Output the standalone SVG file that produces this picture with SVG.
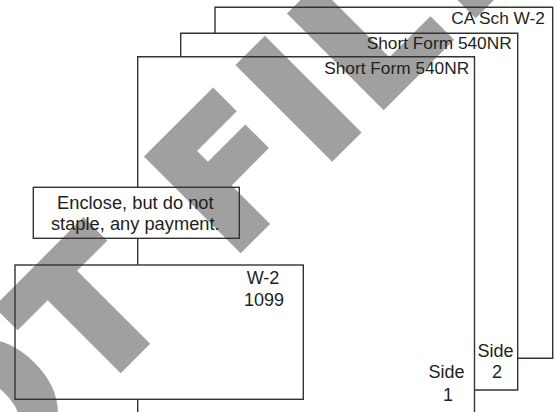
<svg xmlns="http://www.w3.org/2000/svg" width="556" height="412" viewBox="0 0 556 412">
<style>
.wm{font-family:"DejaVu Sans",sans-serif;font-weight:bold;font-size:176px;fill:#a0a0a0;stroke:#a0a0a0;stroke-width:8.5px;stroke-linejoin:miter}
.ln{fill:none;stroke:#333;stroke-width:1.4}
.t{font-family:"Liberation Sans",Arial,sans-serif;fill:#231f20}
.lab{font-size:17.3px;text-anchor:end}
.c{font-size:18px;text-anchor:middle}
</style>
<rect width="556" height="412" fill="#fff"/>
<g id="watermark">
<text class="wm" transform="rotate(-45)" y="345" x="-880 -722 -565 -525 -377.1 -217.8 -80 -20.9 108.5 181.3 311.4">DO NOT FILE</text>
</g>
<g id="connectors">
<line class="ln" x1="137.7" y1="238.3" x2="137.7" y2="265"/>
<line class="ln" x1="137.7" y1="399.3" x2="137.7" y2="413"/>
</g>
<g id="ca-sch-w2">
<polyline class="ln" points="215,33.3 215,7.3 552.7,7.3 552.7,358.3 517.7,358.3"/>
<text class="t lab" x="545" y="24">CA Sch W-2</text>
<text class="t c" x="495.5" y="356.7">Side</text>
<text class="t c" x="497" y="378.3">2</text>
</g>
<g id="short-form-back">
<polyline class="ln" points="180.7,56.7 180.7,33.3 517.7,33.3 517.7,390 474.5,390"/>
<text class="t lab" x="511.7" y="49.3">Short Form 540NR</text>
</g>
<g id="short-form-front">
<polyline class="ln" points="137.7,187.3 137.7,56.7 474.5,56.7 474.5,413"/>
<text class="t lab" x="469.2" y="74">Short Form 540NR</text>
<text class="t c" x="446.5" y="378.3">Side</text>
<text class="t c" x="448" y="401">1</text>
</g>
<g id="enclose">
<rect class="ln" x="33.3" y="187.3" width="206" height="51"/>
<text class="t c" x="135.3" y="209.3" style="font-size:18.3px">Enclose, but do not</text>
<text class="t c" x="135.3" y="230" style="font-size:18.3px">staple, any payment.</text>
</g>
<g id="w2-1099">
<rect class="ln" x="15" y="265" width="288.3" height="134.3"/>
<text class="t c" x="263" y="284">W-2</text>
<text class="t c" x="264" y="305.7">1099</text>
</g>
</svg>
